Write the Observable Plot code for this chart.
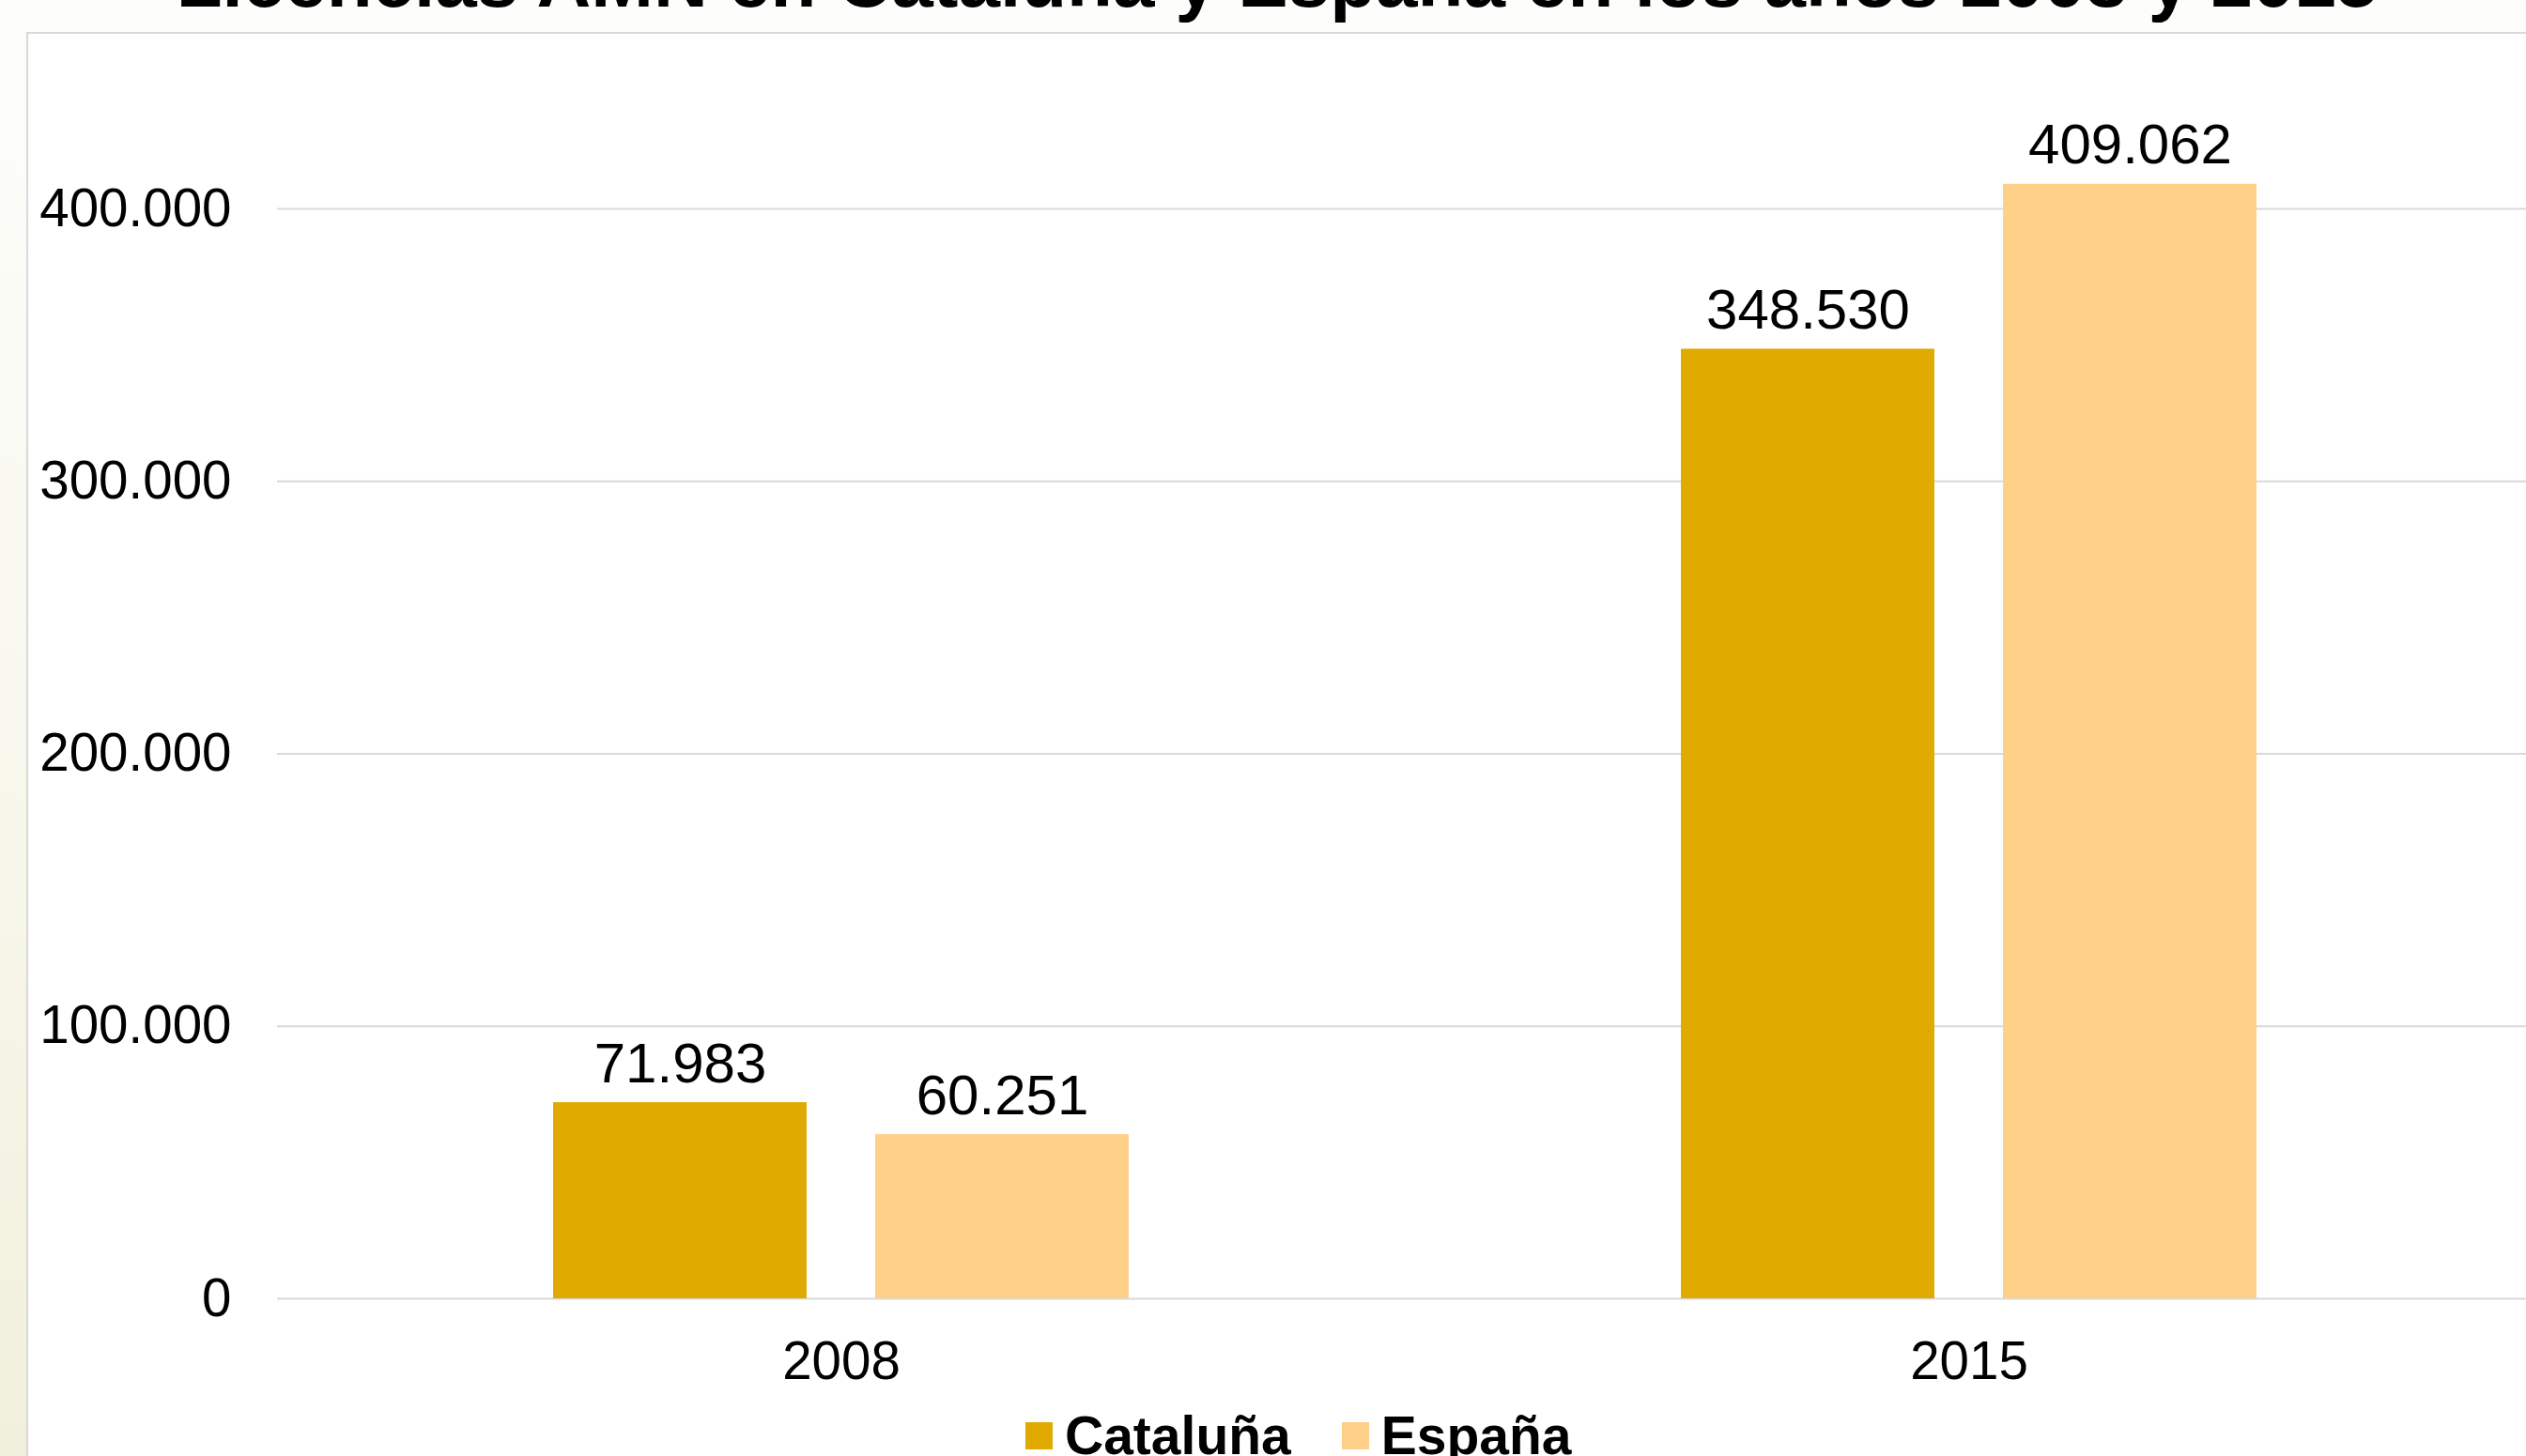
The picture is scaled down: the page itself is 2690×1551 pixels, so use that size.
<!DOCTYPE html>
<html>
<head>
<meta charset="utf-8">
<script src="https://cdn.jsdelivr.net/npm/d3@7"></script>
<script src="https://cdn.jsdelivr.net/npm/@observablehq/plot@0.6"></script>
<style>
  html, body { margin: 0; padding: 0; width: 2690px; height: 1551px; overflow: hidden; }
  body {
    position: relative;
    background: linear-gradient(to bottom, #fdfdfb 0%, #f9f9f1 40%, #f1f0dc 100%);
    font-family: "Liberation Sans", Arial, sans-serif;
  }
  #panel {
    position: absolute; left: 28px; top: 34px; width: 2700px; height: 1560px;
    background: #ffffff; border: 2px solid #d9d9d9; box-sizing: border-box;
  }
  #title {
    position: absolute; left: 0; top: -60px; width: 2720px; text-align: center;
    font-size: 80px; line-height: 80px; font-weight: bold; color: #000; white-space: nowrap;
  }
  #chart { position: absolute; left: 0; top: 35px; width: 2697px; }
  #chart svg { max-width: none !important; }
  #legend {
    position: absolute; left: 1092px; top: 1501px; display: flex; align-items: center;
    font-size: 57px; line-height: 57px; font-weight: bold; color: #000; white-space: nowrap;
  }
  .sw { display: inline-block; width: 29px; height: 29px; margin-right: 13px; }
  .item { display: flex; align-items: center; margin-right: 54px; }
</style>
</head>
<body>
<div id="panel"></div>
<div id="title">Licencias AMN en Cataluña y España en los años 2008 y 2015</div>
<div id="chart"></div>
<div id="legend"></div>
<script>
const years = ["2008", "2015"];
const series = ["Cataluña", "España"];
const cataluna = [71983, 348530];
const espana = [60251, 409062];
const yTicks = [0, 100000, 200000, 300000, 400000];
const colors = ["#E1AA00", "#FFD088"];

const data = years.flatMap((yr, i) => [
  {year: yr, serie: series[0], value: cataluna[i]},
  {year: yr, serie: series[1], value: espana[i]}
]);
const fmt = v => d3.format(",")(v).replace(/,/g, ".");

const chart = Plot.plot({
  width: 2697,
  height: 1455,
  marginLeft: 295,
  marginRight: 0,
  marginTop: 42,
  marginBottom: 107,
  style: {fontFamily: "'Liberation Sans', Arial, sans-serif", fontSize: "56.5px", color: "#000", background: "transparent", overflow: "visible", maxWidth: "none"},
  fx: {domain: years, padding: 0, label: null, axis: "bottom", tickSize: 0, tickPadding: 45},
  x: {domain: series, paddingInner: 0.2128, paddingOuter: 0.857, axis: null},
  y: {domain: [0, 450000], ticks: yTicks, tickFormat: fmt, tickSize: 0, tickPadding: 49, label: null},
  color: {domain: series, range: colors},
  marks: [
    Plot.ruleY(yTicks, {stroke: "#d9d9d9", strokeWidth: 2}),
    Plot.barY(data, {fx: "year", x: "serie", y: "value", fill: "serie"}),
    Plot.text(data, {fx: "year", x: "serie", y: "value", text: d => fmt(d.value), lineAnchor: "bottom", dy: -22, fontSize: 60, fill: "#000"})
  ]
});
document.getElementById("chart").appendChild(chart);

const legend = document.getElementById("legend");
series.forEach((s, i) => {
  const item = document.createElement("div");
  item.className = "item";
  const sw = document.createElement("span");
  sw.className = "sw";
  sw.style.background = colors[i];
  const label = document.createElement("span");
  label.textContent = s;
  item.appendChild(sw);
  item.appendChild(label);
  legend.appendChild(item);
});
</script>
</body>
</html>
